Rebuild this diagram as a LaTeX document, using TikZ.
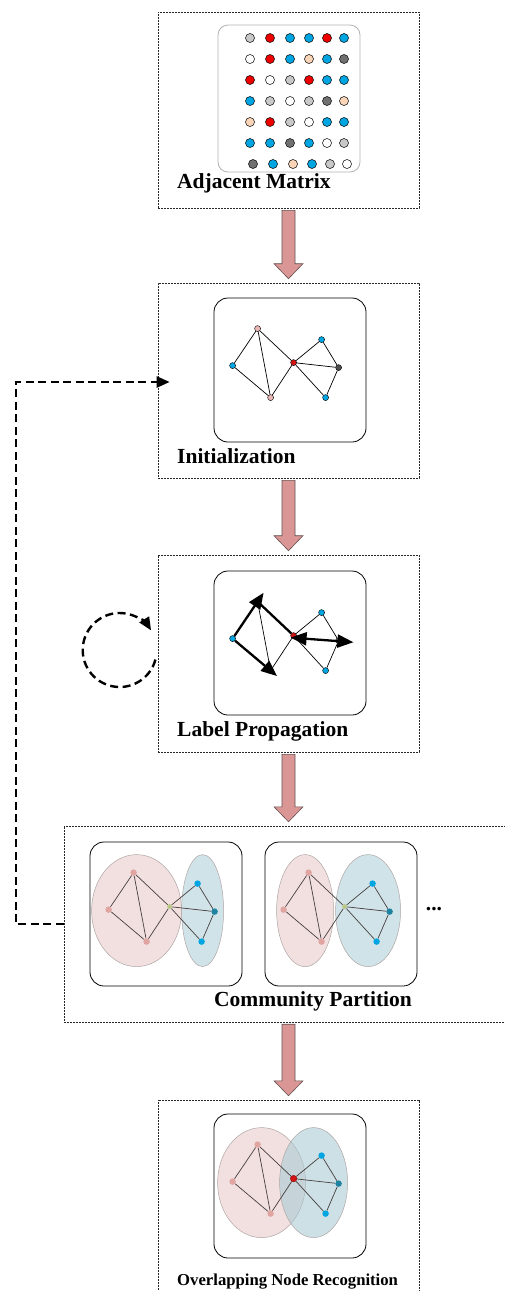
\documentclass[tikz,border=0pt]{standalone}
\usepackage{fontspec}
\setmainfont{Liberation Serif}
\usetikzlibrary{calc,arrows.meta}

\definecolor{dotgray}{RGB}{200,200,200}
\definecolor{dotred}{RGB}{238,0,0}
\definecolor{dotblue}{RGB}{0,165,225}
\definecolor{dotpeach}{RGB}{250,212,182}
\definecolor{dotdark}{RGB}{112,112,112}
\definecolor{arrowfill}{RGB}{217,150,148}
\definecolor{arrowline}{RGB}{100,80,80}
\definecolor{commpink}{RGB}{242,224,224}
\definecolor{commblue}{RGB}{208,227,232}
\definecolor{ellborder}{RGB}{175,165,165}
\definecolor{nodepink}{RGB}{232,182,180}
\definecolor{softpink}{RGB}{224,165,160}
\definecolor{nodered}{RGB}{210,20,20}
\definecolor{nodeteal}{RGB}{30,130,160}
\definecolor{nodeolive}{RGB}{185,200,135}
\definecolor{edgedark}{RGB}{70,62,62}

\tikzset{
  frameline/.style={draw=black!85, dash pattern=on 2pt off 1pt, line width=0.6pt},
  stagebox/.style={frameline, rectangle, inner sep=0pt, minimum width=261pt},
  panel/.style={draw, rounded corners=14pt, line width=0.8pt, minimum width=152pt, minimum height=144pt, inner sep=0pt},
  matrixpanel/.style={draw=black!30, rounded corners=10pt, line width=0.8pt, minimum width=142pt, minimum height=147pt, inner sep=0pt},
  mdot/.style={circle, draw=black, line width=0.5pt, minimum size=9pt, inner sep=0pt},
  gnode/.style={circle, draw=black, line width=0.4pt, minimum size=6pt, inner sep=0pt},
  cnode/.style={circle, minimum size=6.5pt, inner sep=0pt},
  gedge/.style={line width=0.7pt},
  cedge/.style={line width=0.7pt, draw=edgedark},
  pushedge/.style={line width=2.3pt, -{Triangle[length=16pt,width=13pt]}},
  fatarrow/.style={fill=arrowfill, draw=arrowline, line width=0.6pt},
  loopline/.style={line width=2.4pt, dash pattern=on 8pt off 4.5pt},
  stagetitle/.style={font=\fontsize{21.5}{24}\selectfont\bfseries, anchor=base west, inner sep=0pt},
  pinkzone/.style={fill=commpink, draw=ellborder, line width=0.5pt},
  bluezone/.style={fill=commblue, draw=ellborder, line width=0.5pt}
}

% seven vertices of the sample network, placed inside panel #1
\newcommand{\netnodes}[8]{%
  \node[#2] (#1A) at ($(#1.north west)+(44,31)$) {};
  \node[#3] (#1B) at ($(#1.north west)+(19,68)$) {};
  \node[#4] (#1C) at ($(#1.north west)+(57,100)$) {};
  \node[#5] (#1D) at ($(#1.north west)+(80,65)$) {};
  \node[#6] (#1E) at ($(#1.north west)+(108,42)$) {};
  \node[#7] (#1F) at ($(#1.north west)+(125,70)$) {};
  \node[#8] (#1G) at ($(#1.north west)+(112,100)$) {};
}
\newcommand{\netedges}[2]{%
  \draw[#2] (#1A)--(#1B) (#1B)--(#1C) (#1A)--(#1C) (#1A)--(#1D) (#1C)--(#1D)
            (#1D)--(#1E) (#1E)--(#1F) (#1D)--(#1F) (#1D)--(#1G) (#1G)--(#1F);
}
% broad block arrow between two stages
\newcommand{\bigdown}[2]{%
  \draw[fatarrow] ($#1+(-6.5,2)$) -- ($#2+(-6.5,-19)$) -- ($#2+(-14.5,-19)$)
    -- ($#2+(0,-4)$) -- ($#2+(14.5,-19)$) -- ($#2+(6.5,-19)$) -- ($#1+(6.5,2)$) -- cycle;
}

\begin{document}
\begin{tikzpicture}[x=1pt,y=-1pt]
\useasboundingbox (0,0) rectangle (505,1291);

% stage frames
\node[stagebox, minimum height=196pt] (box1) at (288.5,110) {};
\node[stagebox, minimum height=195pt] (box2) at (288.5,380.5) {};
\node[stagebox, minimum height=197pt] (box3) at (288.5,653.5) {};
\node[inner sep=0pt, minimum width=445pt, minimum height=196pt] (box4) at (286.5,924) {};
\draw[frameline] (box4.north east) -- (box4.north west) -- (box4.south west) -- (box4.south east);
\node[inner sep=0pt, minimum width=261pt, minimum height=196pt] (box5) at (288.5,1198) {};
\draw[frameline] (box5.south west) -- (box5.north west) -- (box5.north east) -- (box5.south east);

% stage 1: adjacency matrix
\node[matrixpanel] (r1) at (289,98.5) {};
\foreach \rowcols [count=\ri] in {
  {dotgray,dotred,dotblue,dotblue,dotred,dotblue},
  {white,dotred,dotblue,dotpeach,dotblue,dotdark},
  {dotred,white,dotgray,dotred,dotblue,dotblue},
  {dotblue,dotgray,white,dotgray,dotdark,dotpeach},
  {dotpeach,dotred,dotgray,white,dotblue,dotblue},
  {dotblue,dotblue,dotdark,dotblue,white,dotgray},
  {dotdark,dotblue,dotpeach,dotblue,dotgray,white}}{
  \foreach \col [count=\ci] in \rowcols {
    \pgfmathsetmacro\dx{{250,270,290,309,327,344}[\ci-1]+(\ri==7)*3}
    \pgfmathsetmacro\dy{38+(\ri-1)*21}
    \node[mdot, fill=\col] (m-\ri-\ci) at (\dx,\dy) {};
  }
}
\node[stagetitle] (t1) at (177,188) {Adjacent Matrix};

% stage 2: initialization
\node[panel] (r2) at (290,370) {};
\netnodes{r2}{gnode,fill=nodepink}{gnode,fill=dotblue}{gnode,fill=nodepink}{gnode,fill=nodered}{gnode,fill=dotblue}{gnode,fill=dotdark!70!black}{gnode,fill=dotblue}
\netedges{r2}{gedge}
\node[stagetitle] (t2) at (177,463) {Initialization};

% stage 3: label propagation
\node[panel] (r3) at (290,643) {};
\netnodes{r3}{gnode,fill=nodepink,minimum size=4pt}{gnode,fill=dotblue}{gnode,fill=nodepink}{gnode,fill=nodered}{gnode,fill=dotblue}{gnode,fill=dotdark}{gnode,fill=dotblue}
\draw[gedge] (r3A)--(r3C) (r3C)--(r3D) (r3D)--(r3E) (r3E)--(r3F) (r3D)--(r3G) (r3G)--(r3F);
\draw[pushedge] (r3B) -- ($(r3B)!1.24!(r3A)$);
\draw[pushedge] (r3B) -- ($(r3B)!1.17!(r3C)$);
\draw[line width=2.3pt] (r3A) -- (r3D);
\draw[line width=2.3pt, {Triangle[length=16pt,width=13pt]}-{Triangle[length=16pt,width=13pt]}]
  ($(r3D)+(-3,2)$) -- ($(r3D)!1.33!(r3F)$);
\node[stagetitle] (t3) at (177,736) {Label Propagation};
\draw[loopline, -{Triangle[length=13pt,width=11pt]}]
  ($(box3.west)+(-38,-3.5)$) ++(15:37) arc[start angle=15, end angle=328, radius=37];

% stage 4: community partition
\node[panel] (r4a) at (166,914) {};
\node[panel] (r4b) at (341,914) {};
\fill[pinkzone] ($(r4a.north west)+(47,69)$) ellipse[x radius=45, y radius=56];
\fill[bluezone] ($(r4a.north west)+(113,69)$) ellipse[x radius=21, y radius=56];
\fill[pinkzone] ($(r4b.north west)+(40.5,69)$) ellipse[x radius=28.5, y radius=56];
\fill[bluezone] ($(r4b.north west)+(103.5,69)$) ellipse[x radius=32.5, y radius=56];
\netnodes{r4a}{cnode,fill=softpink}{cnode,fill=softpink}{cnode,fill=softpink}{cnode,fill=nodeolive,minimum size=5pt}{cnode,fill=dotblue}{cnode,fill=nodeteal}{cnode,fill=dotblue}
\netedges{r4a}{cedge}
\netnodes{r4b}{cnode,fill=softpink}{cnode,fill=softpink}{cnode,fill=softpink}{cnode,fill=nodeolive,minimum size=5pt}{cnode,fill=dotblue}{cnode,fill=nodeteal}{cnode,fill=dotblue}
\netedges{r4b}{cedge}
\node[font=\fontsize{21.5}{24}\selectfont\bfseries, inner sep=0pt] (more) at (434,909) {...};
\node[stagetitle] (t4) at (214,1006) {Community Partition};

% stage 5: overlapping node recognition
\node[panel] (r5) at (290,1186) {};
\fill[pinkzone] ($(r5.north west)+(48,69)$) ellipse[x radius=44, y radius=55];
\fill[bluezone, fill opacity=0.6, fill={rgb,255:red,170;green,203;blue,212}] ($(r5.north west)+(100,69)$) ellipse[x radius=34, y radius=55];
\netnodes{r5}{cnode,fill=softpink}{cnode,fill=softpink}{cnode,fill=softpink}{cnode,fill=nodered,draw=red!50!black,line width=0.4pt}{cnode,fill=dotblue}{cnode,fill=nodeteal}{cnode,fill=dotblue}
\netedges{r5}{cedge}
\node[stagetitle, font=\fontsize{16.7}{19}\selectfont\bfseries] (t5) at (177,1285) {Overlapping Node Recognition};

% flow between stages
\bigdown{(box1.south)}{(box2.north)}
\bigdown{(box2.south)}{(box3.north)}
\bigdown{(box3.south)}{(box3.south |- box4.north)}
\bigdown{(box5.north |- box4.south)}{(box5.north)}

% iteration feedback
\draw[loopline, -{Triangle[length=13pt,width=11pt]}]
  (box4.west) -- ++(-48,0) |- ($(box2.west)+(12,1.5)$);
\end{tikzpicture}
\end{document}
